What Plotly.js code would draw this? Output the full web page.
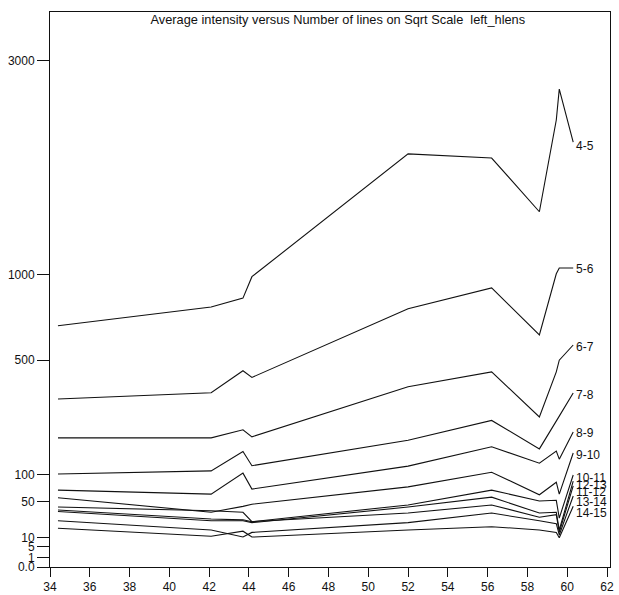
<!DOCTYPE html>
<html><head><meta charset="utf-8">
<script src="https://cdn.plot.ly/plotly-3.0.1.min.js"></script>
<style>html,body{margin:0;padding:0;background:#fff}</style>
</head><body>
<div id="chart" style="width:619px;height:595px"></div>
<script>
// Number of lines (x positions shared by all series)
const xLines = [34.4, 42.1, 43.7, 44.15, 52.0, 56.2, 58.6, 59.45, 59.6, 60.3];

// Series names (intensity ranges)
const seriesNames = ["4-5","5-6","6-7","7-8","8-9","9-10","10-11","11-12","12-13","13-14","14-15"];

// Average intensity values per series
const s4_5   = [680, 790, 845, 985, 1995, 1955, 1475, 2335, 2670, 2110];
const s5_6   = [330, 355, 450, 420, 780, 910, 630, 1005, 1045, 1045];
const s6_7   = [195, 195, 220, 198, 380, 445, 263, 445, 500, 576];
const s7_8   = [101, 108, 156, 120, 188, 251, 163, 246, 266, 354];
const s8_9   = [69, 62, 103, 71, 119, 169, 126, 157, 136, 213];
const s9_10  = [56, 35, 43, 46, 75, 105, 61, 84, 62, 152];
const s10_11 = [42, 37, 35, 24, 45, 69, 51, 52, 28, 99];
const s11_12 = [38, 27, 26, 24, 34, 45, 29, 32, 14, 77];
const s12_13 = [36, 25, 25, 23, 42, 57, 34, 35, 16, 86];
const s13_14 = [25, 16, 10.5, 14, 23, 34, 25, 22, 12, 59];
const s14_15 = [17.5, 11, 15, 10.5, 16, 19, 16, 14, 10, 43];

const allSeries = [s4_5, s5_6, s6_7, s7_8, s8_9, s9_10, s10_11, s11_12, s12_13, s13_14, s14_15];

// Tick labels
const yTickValues = [0, 1, 5, 10, 50, 100, 500, 1000, 3000];
const yTickLabels = ["0.0", "1", "5", "10", "50", "100", "500", "1000", "3000"];
const xTickValues = [34, 36, 38, 40, 42, 44, 46, 48, 50, 52, 54, 56, 58, 60, 62];

// label vertical nudges (pixels), one per series
const labelShift = [-4, -1, -2, -2, -1, -2, -3, -6, -4, -6, -7];

const sq = v => Math.sqrt(v);

const traces = allSeries.map((vals, i) => ({
  type: 'scatter', mode: 'lines',
  x: xLines, y: vals.map(sq), name: seriesNames[i],
  line: {color: '#111', width: 1.1},
  hoverinfo: 'skip'
}));

const annotations = allSeries.map((vals, i) => ({
  x: xLines[xLines.length - 1], y: sq(vals[vals.length - 1]),
  xref: 'x', yref: 'y', text: seriesNames[i], showarrow: false,
  xanchor: 'left', yanchor: 'middle', xshift: 1, yshift: labelShift[i],
  font: {family: 'Arial, Liberation Sans, sans-serif', size: 12, color: '#111'}
}));

const layout = {
  width: 619, height: 595,
  margin: {l: 50, r: 9, t: 12, b: 28},
  paper_bgcolor: '#fff', plot_bgcolor: '#fff',
  showlegend: false,
  font: {family: 'Arial, Liberation Sans, sans-serif', size: 12, color: '#111'},
  title: {
    text: 'Average intensity versus Number of lines on Sqrt Scale  left_hlens',
    font: {family: 'Arial, Liberation Sans, sans-serif', size: 12.8, color: '#111'},
    x: 0.514, xanchor: 'center', xref: 'paper',
    y: 1 - 20/595, yanchor: 'middle', yref: 'container'
  },
  xaxis: {
    range: [34, 62.15], tickvals: xTickValues, ticktext: xTickValues.map(String),
    ticks: 'outside', ticklen: 9, tickwidth: 1, tickcolor: '#111',
    showline: true, linecolor: '#111', linewidth: 1, mirror: true,
    showgrid: false, zeroline: false,
    tickfont: {size: 12}
  },
  yaxis: {
    range: [0, 60], tickvals: yTickValues.map(sq), ticktext: yTickLabels,
    ticks: 'outside', ticklen: 12, tickwidth: 1, tickcolor: '#111',
    showline: true, linecolor: '#111', linewidth: 1, mirror: true,
    showgrid: false, zeroline: false,
    tickfont: {size: 12}
  },
  annotations: annotations
};

Plotly.newPlot('chart', traces, layout, {staticPlot: true, displayModeBar: false});
</script>
</body></html>
